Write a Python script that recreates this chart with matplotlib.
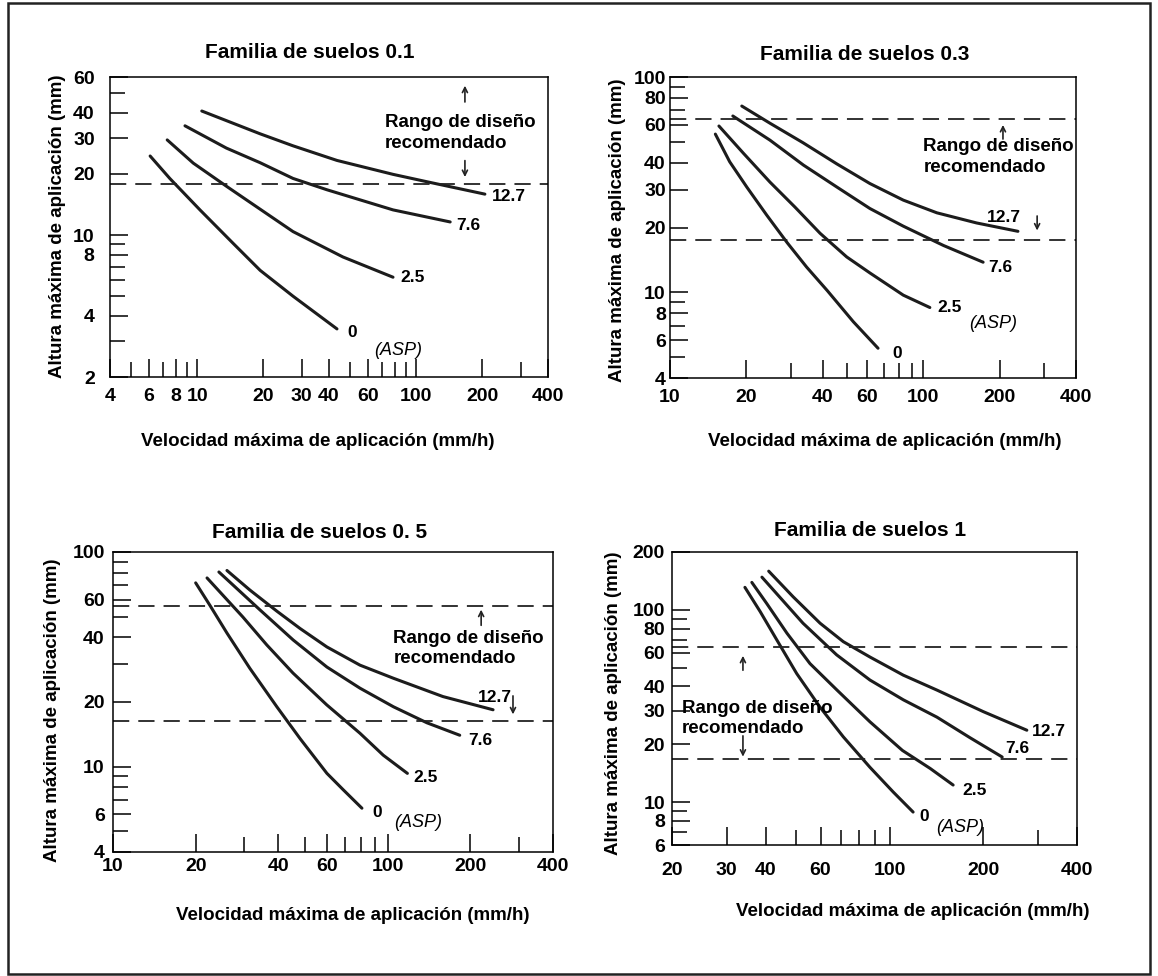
import numpy as np
import matplotlib
matplotlib.use("Agg")
import matplotlib.pyplot as plt
from matplotlib.ticker import LogLocator, NullFormatter, FixedLocator, FixedFormatter
from matplotlib.patches import Rectangle

plt.rcParams['font.family'] = ['Liberation Sans', 'DejaVu Sans']
plt.rcParams['font.weight'] = 'bold'

# ---- data (x = mm/h, y = mm) ----
# Familia de suelos 0.1
p1_x_127 = [10.5, 19.4, 27.4, 43.5, 78.4, 112, 206]
p1_y_127 = [40.8, 31.5, 27.5, 23.3, 19.9, 18.3, 15.9]
p1_x_76 = [8.8, 13.6, 19.4, 27.4, 39.2, 78.4, 143]
p1_y_76 = [34.5, 26.8, 22.7, 19.0, 16.7, 13.3, 11.6]
p1_x_25 = [7.3, 9.6, 13.7, 19.4, 27.4, 46.3, 78.4]
p1_y_25 = [29.4, 22.6, 17.3, 13.4, 10.4, 7.8, 6.2]
p1_x_0 = [6.1, 7.5, 10.3, 14.6, 19.4, 27.4, 43.5]
p1_y_0 = [24.5, 19.0, 13.3, 9.1, 6.7, 5.0, 3.45]

# Familia de suelos 0.3
p2_x_127 = [19.2, 24.8, 33.5, 45.5, 61.5, 83.3, 113, 162, 236]
p2_y_127 = [73.3, 61.0, 49.5, 39.5, 32.0, 26.8, 23.4, 21.0, 19.2]
p2_x_76 = [17.7, 24.8, 33.6, 45.6, 61.5, 83.2, 120, 172]
p2_y_76 = [65.9, 50.9, 39.0, 30.8, 24.5, 20.3, 16.5, 13.8]
p2_x_25 = [15.6, 19.5, 24.8, 31.1, 39.1, 49.8, 61.5, 83.3, 106]
p2_y_25 = [59.2, 44.2, 32.5, 24.9, 18.8, 14.6, 12.3, 9.7, 8.5]
p2_x_0 = [15.1, 17.2, 20.1, 24.1, 29.0, 34.6, 41.7, 52.9, 66.2]
p2_y_0 = [54.3, 40.4, 30.8, 22.8, 17.0, 13.1, 10.2, 7.3, 5.5]

# Familia de suelos 0.5
p3_x_127 = [26.0, 31.5, 39.5, 48.0, 60.1, 79.3, 105, 159, 242]
p3_y_127 = [82.0, 66.5, 53.0, 44.0, 36.1, 29.7, 25.8, 21.2, 18.4]
p3_x_76 = [24.3, 34.3, 45.3, 60.1, 79.3, 105, 139, 183]
p3_y_76 = [80.7, 53.7, 38.9, 29.1, 23.2, 19.0, 16.0, 14.0]
p3_x_25 = [22.0, 29.7, 36.3, 45.2, 60.0, 79.3, 96.4, 118]
p3_y_25 = [75.7, 49.8, 36.9, 27.3, 19.4, 14.3, 11.3, 9.3]
p3_x_0 = [20.0, 22.5, 26.0, 31.5, 39.5, 48.0, 60.1, 68.9, 80.6]
p3_y_0 = [71.8, 56.6, 41.9, 28.7, 19.0, 13.5, 9.3, 7.8, 6.4]

# Familia de suelos 1
p4_x_127 = [40.9, 49.0, 59.8, 71.0, 86.5, 110.7, 142, 200, 276]
p4_y_127 = [159, 117, 85.3, 68.4, 56.9, 45.8, 38.3, 29.6, 23.7]
p4_x_76 = [38.9, 52.7, 67.6, 86.5, 110.7, 142, 181, 230]
p4_y_76 = [148, 85.3, 58.4, 43.2, 34.1, 27.7, 21.7, 17.2]
p4_x_25 = [36.1, 40.3, 46.8, 55.5, 67.8, 86.5, 110, 135, 160]
p4_y_25 = [139, 108, 75.7, 52.6, 38.3, 26.2, 18.6, 15.0, 12.3]
p4_x_0 = [34.3, 38.4, 43.5, 50.3, 59.8, 71.0, 86.5, 102.8, 119]
p4_y_0 = [131, 98.0, 69.5, 46.7, 31.2, 21.9, 15.2, 11.3, 8.9]

curve_names = ['12.7', '7.6', '2.5', '0']
titles = ['Familia de suelos 0.1', 'Familia de suelos 0.3',
          'Familia de suelos 0. 5', 'Familia de suelos 1']
xlims = [(4, 400), (10, 400), (10, 400), (20, 400)]
ylims = [(2, 60), (4, 100), (4, 100), (6, 200)]
xtick_vals = [[4, 6, 8, 10, 20, 30, 40, 60, 100, 200, 400],
              [10, 20, 40, 60, 100, 200, 400],
              [10, 20, 40, 60, 100, 200, 400],
              [20, 30, 40, 60, 100, 200, 400]]
ytick_vals = [[2, 4, 8, 10, 20, 30, 40, 60],
              [4, 6, 8, 10, 20, 30, 40, 60, 80, 100],
              [4, 6, 10, 20, 40, 60, 100],
              [6, 8, 10, 20, 30, 40, 60, 80, 100, 200]]
design_lo = [17.9, 17.5, 16.3, 16.7]
design_hi = [None, 63.7, 56.0, 64.0]

# curve end labels (x, y) per panel in order 12.7, 7.6, 2.5, 0
end_lbl_x = [[222, 153, 84.4, 48.3], [178, 180, 113, 75.2],
             [213, 196, 124, 87.7], [287, 235, 171, 125]]
end_lbl_y = [[15.4, 11.2, 6.2, 3.3], [22.3, 13.1, 8.5, 5.2],
             [20.9, 13.3, 8.9, 6.1], [23.2, 19.1, 11.5, 8.4]]
asp_pos = [(82.6, 2.7), (188, 7.2), (129, 5.5), (168, 7.4)]
rango_pos = [(72, 31.8), (100, 42.5), (105, 35.5), (21.5, 27.2)]
arrow_up = [(167, 43.8, 56.1), (206, 50.0, 61.7), (219, 44.2, 55.5), (33.8, 47.0, 59.7)]
arrow_dn = [(167, 24.0, 18.7), (281, 23.3, 18.8), (286, 22.0, 17.0), (33.8, 22.9, 16.7)]

panels = [
    [(p1_x_127, p1_y_127), (p1_x_76, p1_y_76), (p1_x_25, p1_y_25), (p1_x_0, p1_y_0)],
    [(p2_x_127, p2_y_127), (p2_x_76, p2_y_76), (p2_x_25, p2_y_25), (p2_x_0, p2_y_0)],
    [(p3_x_127, p3_y_127), (p3_x_76, p3_y_76), (p3_x_25, p3_y_25), (p3_x_0, p3_y_0)],
    [(p4_x_127, p4_y_127), (p4_x_76, p4_y_76), (p4_x_25, p4_y_25), (p4_x_0, p4_y_0)],
]

W, H = 1158, 976
fig = plt.figure(figsize=(W / 100, H / 100), dpi=100)


def px_box(l, r, t, b):
    return [l / W, 1 - b / H, (r - l) / W, (b - t) / H]


boxes = [px_box(110, 548, 77, 377), px_box(670, 1076, 77, 378),
         px_box(113, 553, 552, 852), px_box(672, 1077, 552, 845)]
title_pos = [(310, 52), (865, 54), (320, 532), (870, 530)]
ylab_pos = [(57, 226), (617, 230), (53, 710), (614, 703)]
xlab_pos = [(318, 441), (885, 441), (353, 915), (913, 912)]
xpads = [8, 8, 4, 12]
ypads = [11, 3, 6, 5]

for i in range(4):
    ax = fig.add_axes(boxes[i])
    ax.set_xscale('log')
    ax.set_yscale('log')
    ax.set_xlim(*xlims[i])
    ax.set_ylim(*ylims[i])

    for (xs, ys) in panels[i]:
        ax.plot(xs, ys, color='#1c1c1c', lw=2.2, solid_capstyle='round',
                solid_joinstyle='round')

    ax.axhline(design_lo[i], color='#222222', lw=1.3, ls=(0, (9, 5)))
    if design_hi[i] is not None:
        ax.axhline(design_hi[i], color='#222222', lw=1.3, ls=(0, (9, 5)))

    for k, name in enumerate(curve_names):
        ax.text(end_lbl_x[i][k], end_lbl_y[i][k], name, fontsize=12.5,
                ha='left', va='center')
    ax.text(asp_pos[i][0], asp_pos[i][1], '(ASP)', fontsize=13,
            fontweight='normal', style='italic', ha='center', va='center')
    ax.text(rango_pos[i][0], rango_pos[i][1], 'Rango de diseño\nrecomendado',
            fontsize=13.5, ha='left', va='center', linespacing=1.25)

    ux, uy0, uy1 = arrow_up[i]
    ax.annotate('', xy=(ux, uy1), xytext=(ux, uy0),
                arrowprops=dict(arrowstyle='->', lw=1.2, color='#222222',
                                mutation_scale=9))
    dx, dy0, dy1 = arrow_dn[i]
    ax.annotate('', xy=(dx, dy1), xytext=(dx, dy0),
                arrowprops=dict(arrowstyle='->', lw=1.2, color='#222222',
                                mutation_scale=9))

    ax.xaxis.set_major_locator(FixedLocator(xtick_vals[i]))
    ax.xaxis.set_major_formatter(FixedFormatter([str(v) for v in xtick_vals[i]]))
    ax.yaxis.set_major_locator(FixedLocator(ytick_vals[i]))
    ax.yaxis.set_major_formatter(FixedFormatter([str(v) for v in ytick_vals[i]]))
    ax.xaxis.set_minor_locator(LogLocator(base=10, subs=np.arange(2, 10)))
    ax.yaxis.set_minor_locator(LogLocator(base=10, subs=np.arange(2, 10)))
    ax.xaxis.set_minor_formatter(NullFormatter())
    ax.yaxis.set_minor_formatter(NullFormatter())
    ax.tick_params(which='both', direction='in', top=False, right=False,
                   width=1.1, labelsize=14)
    ax.tick_params(which='major', length=13)
    ax.tick_params(which='minor', length=11)
    ax.tick_params(axis='x', which='both', pad=xpads[i])
    ax.tick_params(axis='y', which='both', pad=ypads[i])
    for sp in ax.spines.values():
        sp.set_linewidth(1.1)

    fig.text(title_pos[i][0] / W, 1 - title_pos[i][1] / H, titles[i],
             fontsize=15, ha='center', va='center')
    fig.text(ylab_pos[i][0] / W, 1 - ylab_pos[i][1] / H,
             'Altura máxima de aplicación (mm)', fontsize=13.5,
             rotation=90, ha='center', va='center')
    fig.text(xlab_pos[i][0] / W, 1 - xlab_pos[i][1] / H,
             'Velocidad máxima de aplicación (mm/h)', fontsize=13.5,
             ha='center', va='center')

fig.patches.append(Rectangle((8 / W, 1 - 974 / H), 1142 / W, 971 / H,
                             transform=fig.transFigure, fill=False,
                             lw=1.8, edgecolor='#222222'))

fig.savefig('out.png', dpi=100)
